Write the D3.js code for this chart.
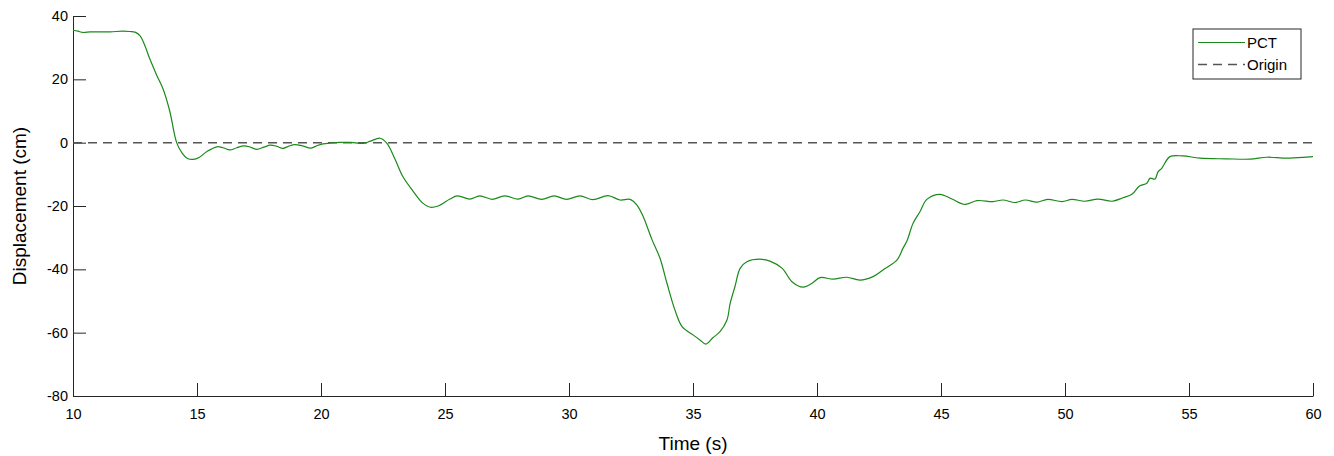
<!DOCTYPE html>
<html>
<head>
<meta charset="utf-8">
<script src="https://d3js.org/d3.v7.min.js"></script>
<style>
    body { margin: 0; background: #fff; }
    text { font-family: "Liberation Sans", Arial, Helvetica, sans-serif; fill: #000; }
    .axis path, .axis line { stroke: #262626; stroke-width: 1px; }
    .axis text { font-size: 14.5px; }
</style>
</head>
<body>
<svg id="chart" width="1334" height="456"></svg>
<script>
// time (s) and displacement (cm)
const time = [10.0, 10.2, 10.4, 10.7, 11.0, 11.5, 12.0, 12.3, 12.5, 12.7, 12.9, 13.1, 13.37, 13.64, 13.9, 14.18,
    14.4, 14.6, 14.84, 15.1, 15.4, 15.8, 16.05, 16.33, 16.6, 16.9, 17.15, 17.4, 17.7, 17.95, 18.2, 18.47,
    18.7, 18.95, 19.25, 19.6, 19.85, 20.08, 20.4, 20.77, 21.2, 21.7, 22.0, 22.38, 22.66, 23.0, 23.3, 23.7,
    24.1, 24.4, 24.72, 25.2, 25.5, 26.0, 26.4, 26.9, 27.4, 27.95, 28.35, 28.9, 29.4, 29.9, 30.44, 30.97,
    31.57, 32.06, 32.46, 32.74, 33.0, 33.2, 33.35, 33.67, 33.95, 34.27, 34.56, 35.0, 35.28, 35.52, 35.8,
    36.09, 36.37, 36.5, 36.69, 36.9, 37.17, 37.7, 38.1, 38.6, 38.99, 39.44, 39.8, 40.12, 40.65, 41.2,
    41.73, 42.26, 42.66, 43.23, 43.47, 43.63, 43.87, 44.15, 44.43, 44.96, 45.44, 45.97, 46.45, 47.1,
    47.5, 47.98, 48.4, 48.87, 49.3, 49.88, 50.28, 50.8, 51.33, 51.9, 52.34, 52.7, 53.0, 53.3, 53.43,
    53.63, 53.75, 53.9, 54.23, 54.76, 55.44, 56.5, 57.46, 58.15, 58.95, 60.0];
const pct = [35.5, 35.2, 34.8, 35.0, 35.0, 35.0, 35.2, 35.1, 34.9, 33.8, 30.6, 26.4, 21.4, 16.8, 10.0, 0,
    -3.3, -4.9, -5.3, -4.6, -2.8, -1.3, -1.6, -2.3, -1.6, -1.0, -1.4, -2.1, -1.4, -0.8, -1.1, -1.8,
    -1.1, -0.6, -1.0, -1.7, -0.9, -0.4, -0.1, 0.1, 0.1, -0.2, 0.5, 1.4, -0.2, -5.5, -10.7, -15.2,
    -19.1, -20.4, -20.0, -17.8, -16.8, -17.8, -16.8, -17.9, -16.8, -17.8, -16.8, -17.9, -16.8, -17.9, -16.8, -18.0,
    -16.7, -18.1, -17.9, -19.7, -23.5, -27.6, -30.7, -36.5, -44.4, -52.8, -58.1, -60.7, -62.3, -63.6, -61.6,
    -59.7, -56.0, -50.7, -45.5, -39.7, -37.6, -36.8, -37.4, -39.7, -43.9, -45.6, -44.4, -42.6, -43.1, -42.5,
    -43.4, -42.3, -40.2, -37.0, -33.3, -31.0, -25.5, -21.8, -17.9, -16.3, -17.8, -19.5, -18.3, -18.6,
    -18.1, -18.9, -18.1, -18.8, -17.9, -18.6, -17.9, -18.5, -17.8, -18.5, -17.4, -16.3, -13.7, -12.8, -11.2,
    -11.5, -9.2, -8.1, -4.4, -4.2, -4.9, -5.1, -5.2, -4.6, -4.9, -4.4];
const xTicks = [10, 15, 20, 25, 30, 35, 40, 45, 50, 55, 60];
const yTicks = [-80, -60, -40, -20, 0, 20, 40];
const seriesNames = ["PCT", "Origin"];

const svg = d3.select("svg#chart");
const margin = { top: 16, right: 21, bottom: 60, left: 73 };
const width = 1334 - margin.left - margin.right;
const height = 456 - margin.top - margin.bottom;
const plot = svg.append("g")
    .attr("transform", "translate(" + margin.left + "," + margin.top + ")");

const x = d3.scaleLinear().domain([10, 60]).range([0, width]);
const y = d3.scaleLinear().domain([-80, 40]).range([height, 0]);

// axes, ticks pointing inward like matlab; plain hyphen for negatives
plot.append("g")
    .attr("class", "axis")
    .attr("transform", "translate(0," + height + ")")
    .call(d3.axisBottom(x).tickValues(xTicks).tickFormat(d => String(d))
        .tickSize(-13).tickSizeOuter(0).tickPadding(10))
    .call(g => g.selectAll("text").attr("dy", "0.9em"));

plot.append("g")
    .attr("class", "axis")
    .call(d3.axisLeft(y).tickValues(yTicks).tickFormat(d => String(d))
        .tickSize(-13).tickSizeOuter(0).tickPadding(5));

// zero line
plot.append("line")
    .attr("x1", x(10)).attr("x2", x(60))
    .attr("y1", y(0)).attr("y2", y(0))
    .attr("stroke", "#555")
    .attr("stroke-width", 1.5)
    .attr("stroke-dasharray", "9,6");

// PCT trace
const line = d3.line()
    .x((d, i) => x(time[i]))
    .y(d => y(d))
    .curve(d3.curveCatmullRom.alpha(0.5));

plot.append("path")
    .datum(pct)
    .attr("fill", "none")
    .attr("stroke", "#1a8a1a")
    .attr("stroke-width", 1.2)
    .attr("d", line);

// axis labels
svg.append("text")
    .attr("x", margin.left + width / 2)
    .attr("y", 450)
    .attr("text-anchor", "middle")
    .style("font-size", "19px")
    .text("Time (s)");

svg.append("text")
    .attr("transform", "translate(26," + (margin.top + height / 2) + ") rotate(-90)")
    .attr("text-anchor", "middle")
    .style("font-size", "19px")
    .text("Displacement (cm)");

// legend
const legend = svg.append("g").attr("transform", "translate(1193,29)");
legend.append("rect")
    .attr("width", 108).attr("height", 50)
    .attr("fill", "#fff")
    .attr("stroke", "#262626")
    .attr("stroke-width", 1);

legend.selectAll("line.item").data(seriesNames)
    .join("line")
    .attr("class", "item")
    .attr("x1", 5).attr("x2", 52)
    .attr("y1", (d, i) => 13.5 + i * 22)
    .attr("y2", (d, i) => 13.5 + i * 22)
    .attr("stroke", (d, i) => i === 0 ? "#1a8a1a" : "#555")
    .attr("stroke-width", (d, i) => i === 0 ? 1.2 : 1.5)
    .attr("stroke-dasharray", (d, i) => i === 0 ? null : "9,6");

legend.selectAll("text").data(seriesNames)
    .join("text")
    .attr("x", 54)
    .attr("y", (d, i) => 13.5 + i * 22)
    .attr("dy", "0.35em")
    .style("font-size", "15px")
    .text(d => d);
</script>
</body>
</html>
